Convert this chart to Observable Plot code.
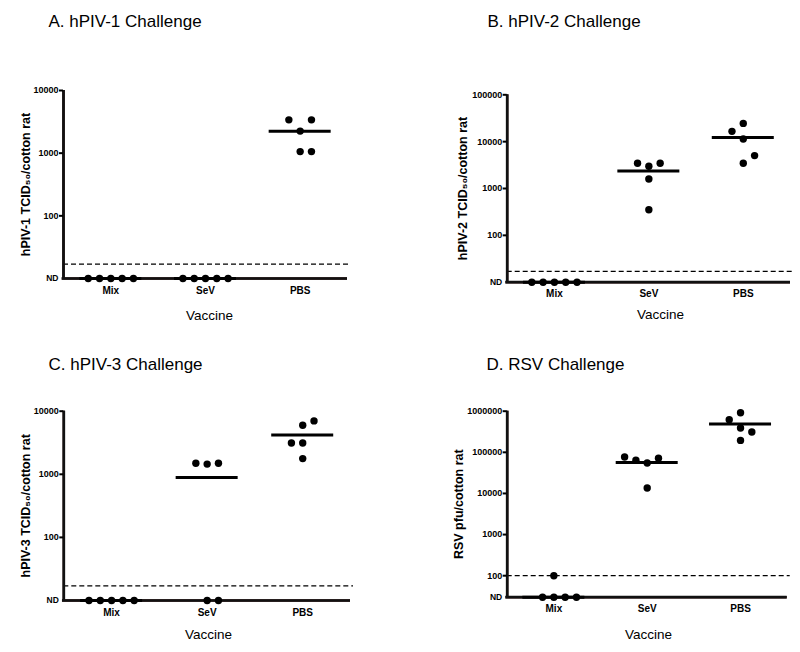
<!DOCTYPE html>
<html><head><meta charset="utf-8">
<script src="https://cdn.jsdelivr.net/npm/d3@7"></script>
<script src="https://cdn.jsdelivr.net/npm/@observablehq/plot@0.6"></script>
<style>
body{margin:0;background:#fff;}
#fig{position:relative;width:800px;height:652px;background:#fff;overflow:hidden;}
#fig svg{position:absolute;}
</style></head><body><div id="fig"></div>
<script>
// ---------- data ----------
const categories = ["Mix", "SeV", "PBS"];
const panelTitles = ["A. hPIV-1 Challenge", "B. hPIV-2 Challenge", "C. hPIV-3 Challenge", "D. RSV Challenge"];
const yLabels = ["hPIV-1 TCID\u2085\u2080/cotton rat", "hPIV-2 TCID\u2085\u2080/cotton rat", "hPIV-3 TCID\u2085\u2080/cotton rat", "RSV pfu/cotton rat"];
const xLabel = "Vaccine";
const ndLabel = "ND";
// null = not detected (ND)
const mixA = [null, null, null, null, null];
const sevA = [null, null, null, null, null];
const pbsA = [2250, 3400, 3400, 1060, 1060];
const mixB = [null, null, null, null, null];
const sevB = [2985, 3450, 3450, 1600, 352];
const pbsB = [24500, 11400, 3460, 16600, 5040];
const mixC = [null, null, null, null, null];
const sevC = [1450, 1500, 1500, null, null];
const pbsC = [5995, 3140, 7015, 3140, 1775];
const mixD = [100, null, null, null, null];
const sevD = [55000, 64000, 71500, 76900, 13600];
const pbsD = [919000, 389000, 195000, 621000, 311000];
const ndLevels = [10, 10, 10, 30];          // where ND sits on each log axis
const detectionLimits = [17, 17, 17, 100];
const yTickValues = [
  [100, 1000, 10000],
  [100, 1000, 10000, 100000],
  [100, 1000, 10000],
  [100, 1000, 10000, 100000, 1000000]
];
const groupsByPanel = [[mixA, sevA, pbsA], [mixB, sevB, pbsB], [mixC, sevC, pbsC], [mixD, sevD, pbsD]];

// ---------- layout (page coordinates) ----------
const layout = [
  {left: 0,   top: 0,   width: 400, height: 340, fx0: 63,    fx1: 347,   fy0: 90,    fy1: 278,   titleX: 48,  titleBase: 26,  yLabX: 25,  xLabX: 209, xLabBase: 319},
  {left: 400, top: 0,   width: 400, height: 340, fx0: 506.7, fx1: 790,   fy0: 94.3,  fy1: 281.7, titleX: 487, titleBase: 26,  yLabX: 462, xLabX: 660, xLabBase: 318},
  {left: 0,   top: 340, width: 400, height: 312, fx0: 63.3,  fx1: 350,   fy0: 410.7, fy1: 600,   titleX: 48,  titleBase: 369, yLabX: 25,  xLabX: 208, xLabBase: 638},
  {left: 400, top: 340, width: 400, height: 312, fx0: 506.7, fx1: 786.7, fy0: 410.7, fy1: 596.7, titleX: 486, titleBase: 369, yLabX: 458, xLabX: 648, xLabBase: 638}
];
const colPx = 11.3, collidePx = 11.8, meanHalfPx = 31, dotR = 3.7;
const ink = "black";

function arrange(values, nd, decadePx) {
  const placed = []; let t = 1;
  return values.map(v => {
    const yv = v == null ? nd : v;
    const pos = Math.log10(yv) * decadePx;
    const free = c => placed.every(p => p.c !== c || Math.abs(p.pos - pos) >= collidePx);
    let c = 0;
    if (!free(0)) {
      for (let k = 1; k < 10; k++) {
        if (free(t * k)) { c = t * k; break; }
        if (free(-t * k)) { c = -t * k; break; }
      }
    }
    placed.push({c, pos}); t = -t;
    return {value: yv, col: c};
  });
}

const fig = document.getElementById("fig");
const font = '"Liberation Sans", Arial, Helvetica, sans-serif';

layout.forEach((L, p) => {
  const nd = ndLevels[p];
  const ticks = yTickValues[p];
  const yTop = ticks[ticks.length - 1];
  const frameW = L.fx1 - L.fx0, frameH = L.fy1 - L.fy0;
  const bandPx = frameW / 3;
  const decadePx = frameH / (Math.log10(yTop) - Math.log10(nd));
  const points = [], means = [];
  groupsByPanel[p].forEach((vals, i) => {
    arrange(vals, nd, decadePx).forEach(d => points.push({x: i + d.col * colPx / bandPx, y: d.value}));
    const m = d3.mean(vals, v => v == null ? 0 : v);
    means.push({y: Math.max(m, nd), x1: i - meanHalfPx / bandPx, x2: i + meanHalfPx / bandPx});
  });
  const mL = L.fx0 - L.left, mR = L.left + L.width - L.fx1;
  const mT = L.fy0 - L.top, mB = L.top + L.height - L.fy1;
  const xAxisLine = [{y: nd, x1: -0.5, x2: 2.5}];
  const yAxisLine = [{x: -0.5, y1: nd, y2: yTop}];

  const chart = Plot.plot({
    width: L.width, height: L.height,
    marginLeft: mL, marginRight: mR, marginTop: mT, marginBottom: mB,
    style: {fontFamily: font, fontWeight: "bold", background: "transparent", overflow: "visible", color: "black"},
    x: {type: "linear", domain: [-0.5, 2.5]},
    y: {type: "log", domain: [nd, yTop]},
    marks: [
      Plot.ruleY([detectionLimits[p]], {stroke: ink, strokeWidth: 1.3, strokeDasharray: "5,3", insetRight: -3}),
      // underlayer (only visible if the dark axis line fails to paint)
      Plot.ruleY(xAxisLine, {y: "y", x1: "x1", x2: "x2", stroke: "#3a1010", strokeWidth: 2.4, insetLeft: -1.2}),
      Plot.ruleX(yAxisLine, {x: "x", y1: "y1", y2: "y2", stroke: "#3a1010", strokeWidth: 2.4}),
      // axis lines
      Plot.ruleY(xAxisLine, {y: "y", x1: "x1", x2: "x2", stroke: "#111", strokeWidth: 2.7, insetLeft: -1.35}),
      Plot.ruleX(yAxisLine, {x: "x", y1: "y1", y2: "y2", stroke: "#111", strokeWidth: 2.7}),
      Plot.axisY({ticks, tickSize: 4, tickPadding: 1, tickFormat: d3.format("d"), fontSize: 9, strokeWidth: 2, label: null}),
      Plot.axisX({ticks: [0, 1, 2], tickSize: 0, tickPadding: 8, tickFormat: i => categories[i], fontSize: 10, label: null}),
      Plot.text([ndLabel], {frameAnchor: "bottom-left", dx: -5, textAnchor: "end", lineAnchor: "middle", fontSize: 8.5}),
      Plot.ruleY(means, {y: "y", x1: "x1", x2: "x2", stroke: ink, strokeWidth: 3}),
      Plot.dot(points, {x: "x", y: "y", r: dotR, fill: ink, stroke: null}),
      Plot.text([panelTitles[p]], {frameAnchor: "top-left", dx: L.titleX - L.fx0, dy: L.titleBase - L.fy0,
        textAnchor: "start", lineAnchor: "bottom", fontSize: 17, fontWeight: "normal"}),
      Plot.text([yLabels[p]], {frameAnchor: "left", dx: L.yLabX - L.fx0, rotate: -90,
        textAnchor: "middle", lineAnchor: "middle", fontSize: 12.5, fontWeight: "bold"}),
      Plot.text([xLabel], {frameAnchor: "bottom", dx: L.xLabX - (L.fx0 + frameW / 2), dy: L.xLabBase - L.fy1,
        textAnchor: "middle", lineAnchor: "bottom", fontSize: 13.5, fontWeight: "normal"})
    ]
  });
  chart.style.left = L.left + "px";
  chart.style.top = L.top + "px";
  fig.appendChild(chart);
});
</script></body></html>
